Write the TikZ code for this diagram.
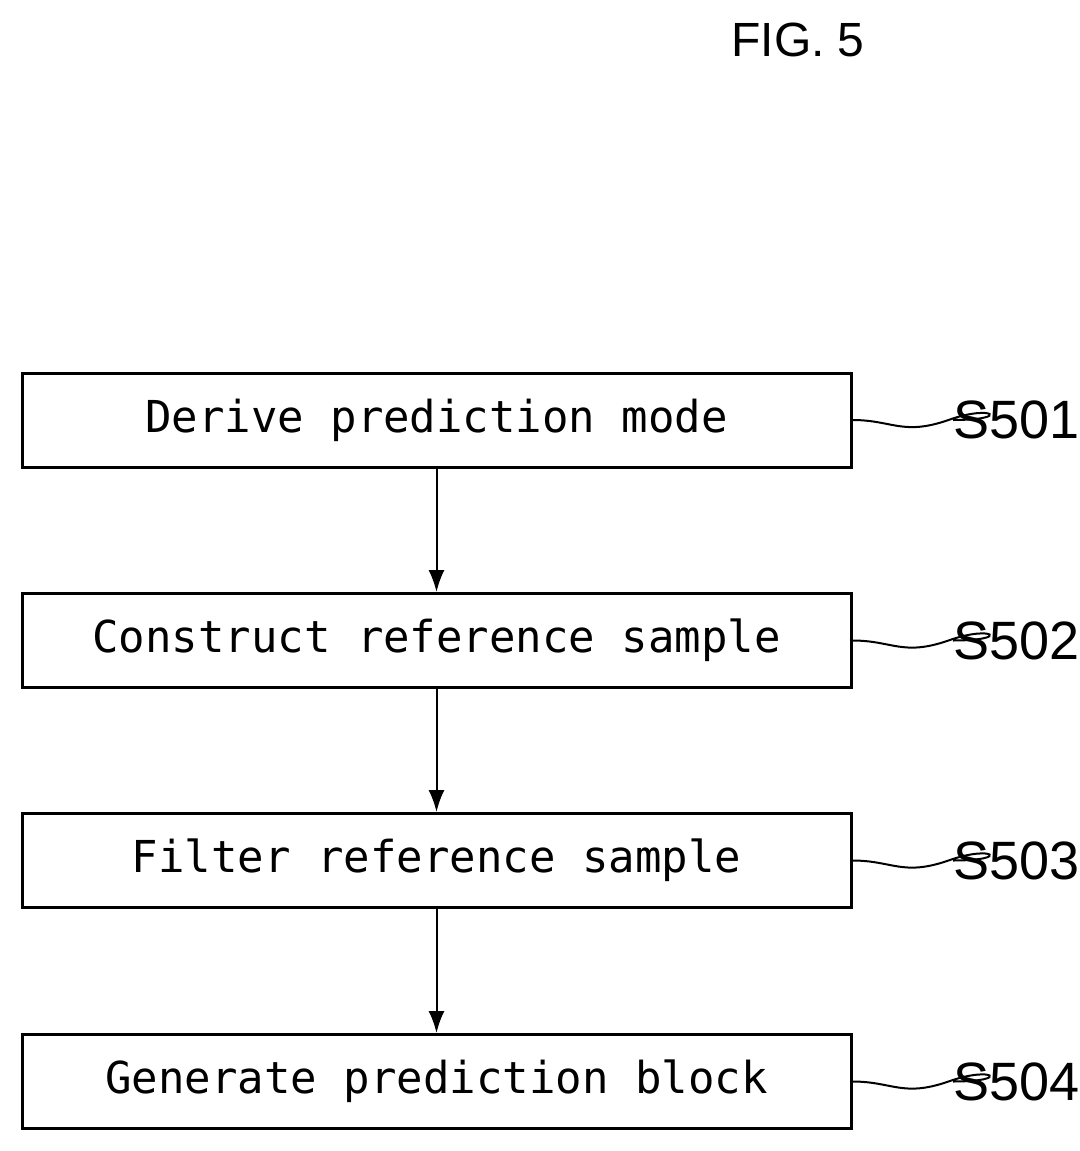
\documentclass[tikz,border=0pt]{standalone}
\usepackage{fontspec}
\usetikzlibrary{arrows.meta}
\setmainfont{Liberation Sans}
\newfontfamily\boxfont{DejaVu Sans Mono}
\begin{document}
\begin{tikzpicture}[x=0.5pt,y=-0.5pt,
  box/.style={draw,line width=1.5pt,minimum width=414.5pt,minimum height=47pt,inner sep=0pt,font=\boxfont\fontsize{22}{24}\selectfont},
  lab/.style={anchor=west,font=\fontsize{27}{30}\selectfont,inner sep=0pt},
  arr/.style={-{Latex[length=11pt,width=8pt]},line width=1pt}]
\useasboundingbox (0,0) rectangle (1080,1151);
\node[font=\fontsize{24}{26}\selectfont] (fig) at (798,40) {FIG. 5};
\node[box] (b1) at (436.5,420) {Derive prediction mode};
\node[box] (b2) at (436.5,640.5) {Construct reference sample};
\node[box] (b3) at (436.5,860.5) {Filter reference sample};
\node[box] (b4) at (436.5,1081.5) {Generate prediction block};
\foreach \i/\t in {1/S501,2/S502,3/S503,4/S504}{
  \node[lab] (l\i) at (953,0 |- b\i) {\t};
  \draw[line width=1pt] (b\i.east) .. controls ([xshift=20]b\i.east) and ([xshift=25,yshift=-8]b\i.east) .. ([xshift=48]b\i.east)
     .. controls ([xshift=70,yshift=8]b\i.east) and ([xshift=80]b\i.east) .. (l\i.west);
}
\draw[arr] (b1) -- (b2);
\draw[arr] (b2) -- (b3);
\draw[arr] (b3) -- (b4);
\end{tikzpicture}
\end{document}
